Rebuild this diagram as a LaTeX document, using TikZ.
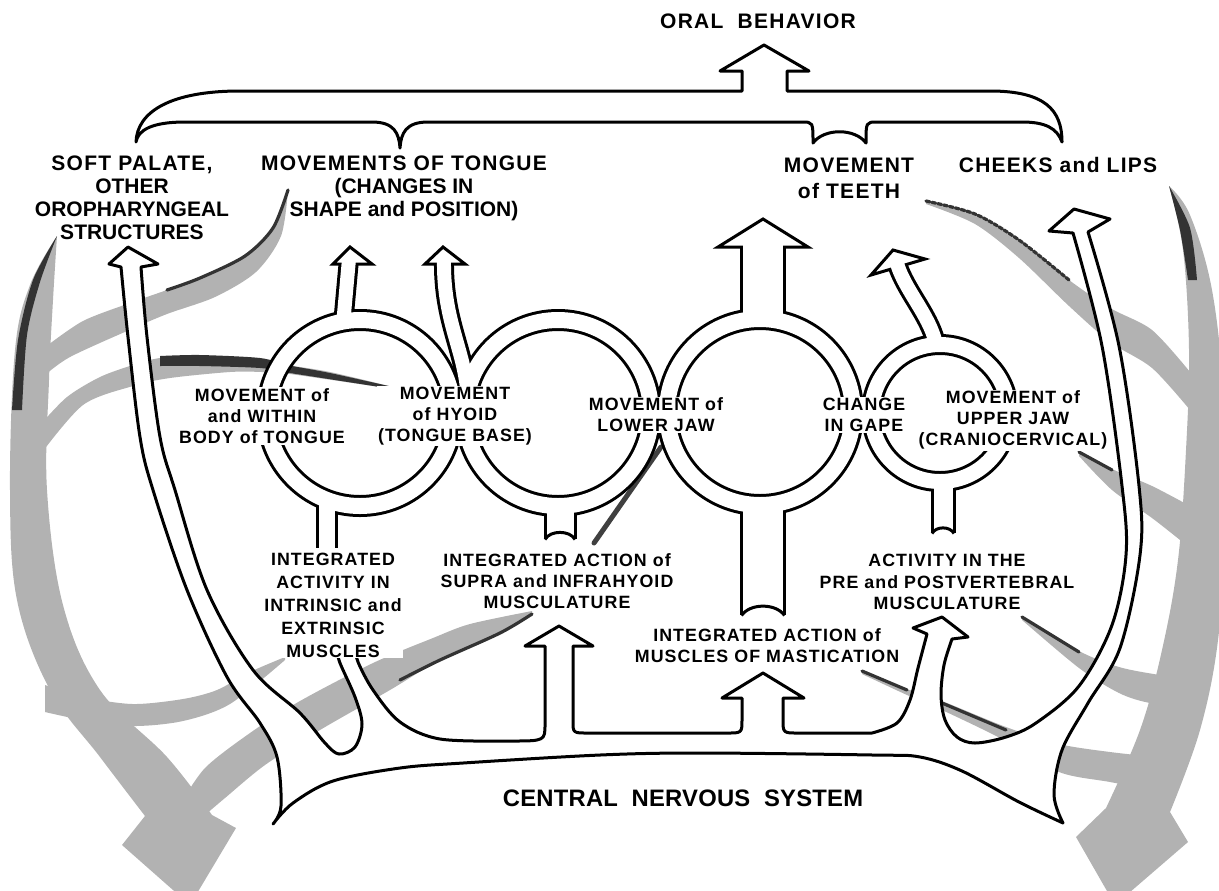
\documentclass[tikz,border=0pt]{standalone}
\usepackage{fontspec}
\setmainfont{Liberation Sans}[LetterSpace=6]
\newcommand\nolsp{\addfontfeatures{LetterSpace=0}}
\begin{document}
\begin{tikzpicture}[x=0.5pt,y=-0.5pt,line width=1.5pt,
  lbl/.style={align=center,inner sep=0.5pt,font=\fontsize{8.9}{10.6}\selectfont\bfseries},
  toplbl/.style={align=center,inner sep=0.5pt,font=\fontsize{10.5}{11.5}\selectfont\bfseries},
  band/.style={fill=black!30,draw=none},
  bandedge/.style={draw=black!80,line width=1.6pt,line cap=round},
  darkband/.style={fill=black!80,draw=none},
  headshape/.style={fill=white,draw=black,line width=1.5pt},
  outline/.style={fill=white,draw=black,line width=1.5pt,line join=round}]
\useasboundingbox (0,0) rectangle (1219,890);

% ---------------- shaded feedback bands ----------------
\fill[band] plot[smooth,tension=0.6] coordinates {(57,236) (30,285) (15,350) (10,490) (17,600) (50,690) (100,757) (145,816)}
  -- (122,845) -- (190,905) -- (236,828) -- (212,815)
  -- plot[smooth,tension=0.6] coordinates {(212,815) (167,757) (100,690) (63,605) (47,490) (49,380) (53,300) (57,236)} -- cycle;
\fill[darkband] plot[smooth] coordinates {(57,236) (33,280) (18,340) (12,410)} -- plot[smooth] coordinates {(22,410) (27,335) (40,282) (57,236)} -- cycle;
\fill[band] plot[smooth,tension=0.6] coordinates {(1169,186) (1183,250) (1189,350) (1186,450) (1178,560) (1162,650) (1140,730) (1106,808)}
  -- (1076,837) -- (1115,905) -- (1188,842) -- (1170,812)
  -- plot[smooth,tension=0.6] coordinates {(1170,812) (1200,730) (1218,640) (1226,520) (1224,400) (1212,290) (1190,215) (1169,186)} -- cycle;
\fill[darkband] plot[smooth] coordinates {(1169,186) (1180,230) (1188,280)} -- plot[smooth] coordinates {(1197,280) (1190,228) (1169,186)} -- cycle;
\fill[band] plot[smooth] coordinates {(288,190) (273,228) (245,256) (200,278) (167,290) (127,304) (83,321) (48,345)}
  -- plot[smooth] coordinates {(45,375) (70,357) (127,331) (167,314) (215,297) (256,272) (281,236) (288,190)} -- cycle;
\draw[bandedge] plot[smooth] coordinates {(288,190) (273,228) (245,256) (200,278) (167,290)};
\fill[band] plot[smooth] coordinates {(393,387) (330,372) (287,365) (260,360) (200,356) (160,358) (133,365) (100,377) (67,397) (40,425)}
  -- plot[smooth] coordinates {(40,455) (83,405) (133,386) (170,378) (230,372) (262,372) (290,374) (393,389)} -- cycle;
\fill[darkband] plot[smooth] coordinates {(393,387) (330,373) (287,365) (260,358) (200,355) (160,356)}
  -- plot[smooth] coordinates {(160,366) (200,366) (260,368) (290,373) (393,389)} -- cycle;
\fill[band] plot[smooth] coordinates {(285,657) (250,672) (217,690) (183,699) (133,704) (83,697) (45,685)}
  -- plot[smooth] coordinates {(45,712) (83,720) (133,726) (183,721) (230,704) (285,660)} -- cycle;
\draw[black!75,line width=2.5pt,line cap=round] (661,447) -- (594,543);
\fill[band] plot[smooth] coordinates {(532,611) (470,624) (433,638) (373,663) (300,701) (250,733) (205,768) (180,805)}
  -- plot[smooth] coordinates {(205,815) (225,798) (265,765) (320,730) (390,690) (440,660) (500,633) (532,614)} -- cycle;
\draw[bandedge] plot[smooth] coordinates {(532,614) (500,633) (440,660) (400,680)};
\fill[band] plot[smooth] coordinates {(926,201) (975,214) (1019,240) (1069,280) (1110,308) (1152,330) (1190,372)}
  -- plot[smooth] coordinates {(1190,410) (1152,368) (1110,342) (1069,306) (1019,258) (975,224) (926,204)} -- cycle;
\draw[bandedge,dash pattern=on 2pt off 1pt] plot[smooth] coordinates {(926,201) (975,214) (1019,240) (1069,280)};
\fill[band] plot[smooth] coordinates {(1079,451) (1112,469) (1152,486) (1190,506)}
  -- plot[smooth] coordinates {(1190,548) (1152,518) (1112,490) (1079,456)} -- cycle;
\draw[bandedge] (1079,452) -- (1112,470);
\fill[band] plot[smooth] coordinates {(1022,616) (1079,651) (1119,667) (1160,675) (1195,679)}
  -- plot[smooth] coordinates {(1195,708) (1150,703) (1119,693) (1079,668) (1022,620)} -- cycle;
\draw[bandedge] (1022,617) -- (1079,652);
\fill[band] plot[smooth] coordinates {(862,670) (907,689) (942,701) (1006,727) (1059,744) (1110,752) (1165,758)}
  -- plot[smooth] coordinates {(1165,792) (1110,782) (1059,772) (1006,741) (942,710) (907,695) (862,674)} -- cycle;
\draw[bandedge] (862,671) -- (907,690);
\draw[bandedge] (942,703) -- (1006,730);

% ---------------- lower manifold (CNS and its branches) ----------------
\path[outline] (141,267)
 -- plot[smooth,tension=0.55] coordinates {(141,267) (147,337) (160,437) (175,490) (207,590) (253,670) (300,713) (325,743) (339,754) (355,747) (362,724) (355,697) (340,663) (337,650)}
 -- (356,650)
 -- plot[smooth,tension=0.55] coordinates {(356,650) (358,662) (373,690) (400,722) (440,739) (510,741)}
 .. controls (545,741) .. (545,724) -- (545,646) -- (525,646) -- (559,626) -- (593,646) -- (573,646) -- (573,721)
 .. controls (573,733) .. (588,733) -- (727,733) .. controls (742,733) .. (742,719) -- (742,698) -- (722,698) -- (763,673) -- (804,698) -- (783,698) -- (783,719)
 .. controls (783,733) .. (798,733) -- (872,733)
 -- plot[smooth,tension=0.55] coordinates {(872,733) (897,723) (910,700) (918,668) (927,634)}
 -- (913,628) -- (942,617) -- (968,637) -- (952,639)
 -- plot[smooth,tension=0.55] coordinates {(952,639) (944,665) (941,695) (945,720) (957,737) (975,743) (1006,737) (1036,723) (1079,686) (1112,625) (1126,555) (1122,486) (1102,346) (1073,233)}
 -- (1049,231) -- (1074,209) -- (1110,219) -- (1088,232)
 -- plot[smooth,tension=0.55] coordinates {(1088,232) (1119,346) (1139,486) (1140,555) (1120,648) (1088,703) (1062,750) (1054,795) (1063,823)}
 -- plot[smooth,tension=0.55] coordinates {(1063,823) (1019,802) (962,771) (920,757) (873,755) (700,753) (600,755) (463,763) (400,768) (333,781) (293,803) (273,824)}
 -- plot[smooth,tension=0.55] coordinates {(273,824) (281,806) (277,757) (260,723) (227,677) (187,590) (153,490) (140,437) (128,337) (121,267)}
 -- (109,264) -- (128,247) -- (158,264) -- cycle;

% ---------------- top brace with arrow ----------------
\path[outline] (136,142) .. controls (137,112) and (170,91) .. (240,91) -- (742,91) -- (742,71) -- (720,71) -- (764,45) -- (809,71) -- (787,71) -- (787,91)
 -- (990,91) .. controls (1045,91) and (1062,110) .. (1062,142)
 .. controls (1057,128) and (1045,122) .. (1022,122) -- (877,122) .. controls (866,122) .. (866,143)
 .. controls (855,128) and (824,128) .. (813,143) .. controls (813,122) .. (802,122) -- (428,122)
 .. controls (406,122) and (401,133) .. (400,148) .. controls (399,133) and (394,122) .. (372,122)
 -- (185,122) .. controls (152,122) and (138,130) .. (136,142) -- cycle;

% ---------------- ring network: black pass ----------------
\draw[line width=11pt] (360,413) circle[radius=93];
\draw[line width=11pt] (558,413) circle[radius=93];
\draw[line width=11pt] (760,412) circle[radius=93];
\draw[line width=10.5pt] (940,413) circle[radius=68.5];
\draw[line width=10pt] (343,325) -- (349,259);
\draw[line width=10pt] (467,388) .. controls (462,345) and (443,318) .. (444,259);
\draw[line width=23pt] (763,318) -- (763,240);
\draw[line width=10pt] (937,350) .. controls (933,318) and (905,292) .. (896.5,262);
\draw[line width=11pt] (327,498) -- (327,548);
\draw[line width=16.5pt] (560,503) -- (560,539);
\draw[line width=23pt] (763,505) -- (763,615);
\draw[line width=12.5pt] (943,485) -- (943,533);
% arrow heads
\path[headshape] (333,264) -- (350,247) -- (372,264) -- cycle;
\path[headshape] (425,264) -- (443,247) -- (465,264) -- cycle;
\path[headshape] (718,247) -- (763,219) -- (808,247) -- cycle;
\path[headshape] (871,275) -- (893,250) -- (925,259) -- cycle;
% white pass
\draw[white,line width=8pt] (360,413) circle[radius=93];
\draw[white,line width=8pt] (558,413) circle[radius=93];
\draw[white,line width=8pt] (760,412) circle[radius=93];
\draw[white,line width=7.5pt] (940,413) circle[radius=68.5];
\draw[white,line width=7pt] (343,325) -- (349,259);
\draw[white,line width=7pt] (467,388) .. controls (462,345) and (443,318) .. (444,259);
\draw[white,line width=20pt] (763,318) -- (763,240);
\draw[white,line width=7pt] (937,350) .. controls (933,318) and (905,292) .. (896.5,262);
\draw[white,line width=8pt] (327,498) -- (327,548);
\draw[white,line width=13.5pt] (560,503) -- (560,539);
\draw[white,line width=20pt] (763,505) -- (763,615);
\draw[white,line width=9.5pt] (943,485) -- (943,533);
% concave tail ends
\draw (545,539.5) .. controls (550,530) and (570,530) .. (575,539.5);
\draw (741.5,615.5) .. controls (750,603) and (776,603) .. (784.5,615.5);
\draw (932,533.5) .. controls (936,526) and (950,526) .. (954,533.5);

% ---------------- labels ----------------
\node[toplbl] (oral) at (758,21) {ORAL\ \ BEHAVIOR};
\node[toplbl] (soft) at (132,198) {SOFT\ PALATE,\\{\nolsp OTHER}\\{\nolsp OROPHARYNGEAL}\\{\nolsp STRUCTURES}};
\node[toplbl] (tongue) at (404,188) {MOVEMENTS OF TONGUE\\{\nolsp (CHANGES IN}\\{\nolsp SHAPE and POSITION)}};
\node[toplbl,font=\fontsize{10.5}{12.8}\selectfont\bfseries] (teeth) at (849,178) {MOVEMENT\\of TEETH};
\node[toplbl] (cheeks) at (1058,165) {CHEEKS and LIPS};
\node[lbl,fill=white] (bodyA) at (262,416) {MOVEMENT of\\and WITHIN\\BODY of TONGUE};
\node[lbl,fill=white] (hyoid) at (455,416) {MOVEMENT\\of HYOID\\(TONGUE BASE)};
\node[lbl,fill=white] (lowjaw) at (656,415) {MOVEMENT of\\LOWER JAW};
\node[lbl,fill=white] (gape) at (864,415) {CHANGE\\IN GAPE};
\node[lbl,fill=white] (upjaw) at (1013,420) {MOVEMENT of\\UPPER JAW\\(CRANIOCERVICAL)};
\node[lbl,fill=white,font=\fontsize{8.9}{11.5}\selectfont\bfseries] (intr) at (333,605) {INTEGRATED\\ACTIVITY IN\\INTRINSIC and\\EXTRINSIC\\MUSCLES};
\node[lbl,fill=white] (supra) at (557,581) {INTEGRATED ACTION of\\SUPRA and INFRAHYOID\\MUSCULATURE};
\node[lbl] (mast) at (767,646) {INTEGRATED ACTION of\\MUSCLES OF MASTICATION};
\node[lbl] (prev) at (947,582) {ACTIVITY IN THE\\PRE and POSTVERTEBRAL\\MUSCULATURE};
\node[toplbl,font=\fontsize{11.9}{13}\selectfont\bfseries\addfontfeatures{LetterSpace=1}] (cns) at (683,798) {CENTRAL\ \ NERVOUS\ \ SYSTEM};
\end{tikzpicture}
\end{document}
